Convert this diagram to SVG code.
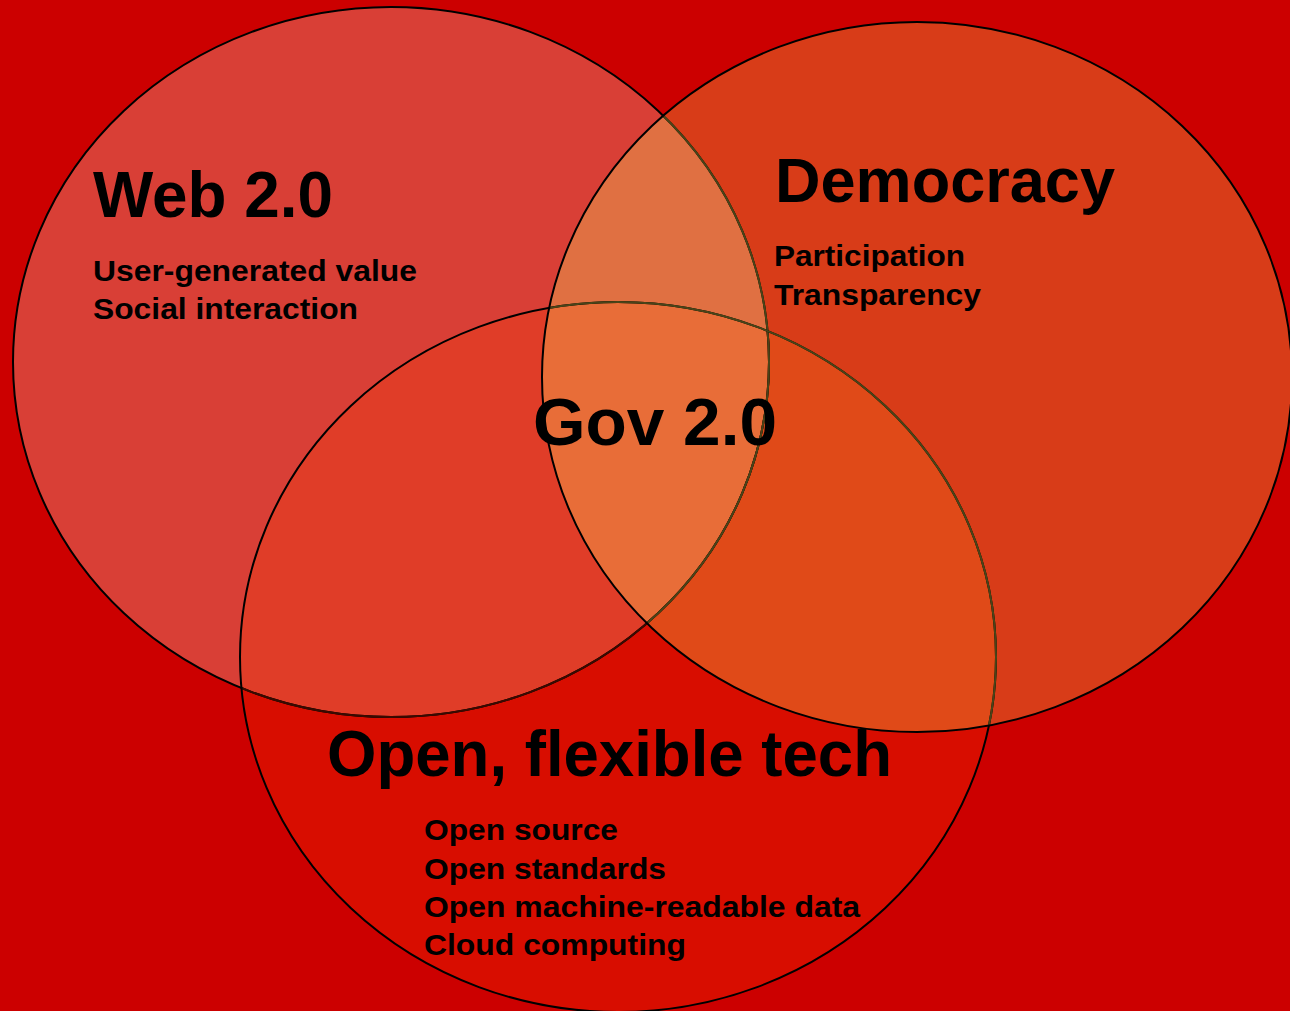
<svg xmlns="http://www.w3.org/2000/svg" width="1290" height="1011" viewBox="0 0 1290 1011">
  <style>
    .big { font-family: "Liberation Sans", Arial, sans-serif; font-weight: bold; fill: #000; }
    .small { font-family: "Liberation Sans", Arial, sans-serif; font-weight: bold; font-size: 29.5px; fill: #000; }
    .outline { fill: none; stroke: #000; stroke-width: 2; }
    .olive { fill: none; stroke: #4A4418; stroke-width: 2; }
    .brown { fill: none; stroke: #3A0A00; stroke-width: 2; }
  </style>
  <defs>
    <ellipse id="eA" cx="391" cy="362" rx="378" ry="355"/>
    <ellipse id="eB" cx="917" cy="377" rx="375" ry="355"/>
    <ellipse id="eC" cx="618" cy="657" rx="378" ry="355"/>
    <clipPath id="clipA"><use href="#eA"/></clipPath>
    <clipPath id="clipB"><use href="#eB"/></clipPath>
    <clipPath id="clipC"><use href="#eC"/></clipPath>
  </defs>

  <rect x="0" y="0" width="1290" height="1011" fill="#CC0000"/>

  <g id="node-web"><use href="#eA" fill="#D93F36"/></g>
  <g id="node-open"><use href="#eC" fill="#D80D00"/></g>
  <g id="node-democracy"><use href="#eB" fill="#D83C18"/></g>

  <g id="overlaps">
    <g clip-path="url(#clipA)"><use href="#eC" fill="#E03D28"/></g>
    <g clip-path="url(#clipB)"><use href="#eC" fill="#E04A18"/></g>
    <g clip-path="url(#clipA)"><use href="#eB" fill="#E07042"/></g>
    <g clip-path="url(#clipA)"><g clip-path="url(#clipB)"><use href="#eC" fill="#E86D38"/></g></g>
  </g>

  <g id="outlines">
    <use href="#eA" class="outline"/>
    <g clip-path="url(#clipC)"><use href="#eA" class="brown"/></g>
    <g clip-path="url(#clipB)"><use href="#eA" class="olive"/></g>
    <use href="#eC" class="outline"/>
    <g clip-path="url(#clipB)"><use href="#eC" class="olive"/></g>
    <use href="#eB" class="outline"/>
  </g>

  <g id="label-web">
    <text class="big" x="93" y="217" font-size="64" textLength="240" lengthAdjust="spacingAndGlyphs">Web 2.0</text>
    <text class="small" x="93" y="281" textLength="324" lengthAdjust="spacingAndGlyphs">User-generated value</text>
    <text class="small" x="93" y="319" textLength="265" lengthAdjust="spacingAndGlyphs">Social interaction</text>
  </g>
  <g id="label-democracy">
    <text class="big" x="775" y="202" font-size="63" textLength="340" lengthAdjust="spacingAndGlyphs">Democracy</text>
    <text class="small" x="774" y="266" textLength="191" lengthAdjust="spacingAndGlyphs">Participation</text>
    <text class="small" x="774" y="305" textLength="207" lengthAdjust="spacingAndGlyphs">Transparency</text>
  </g>
  <g id="label-gov">
    <text class="big" x="533" y="445" font-size="66" textLength="244" lengthAdjust="spacingAndGlyphs">Gov 2.0</text>
  </g>
  <g id="label-open">
    <text class="big" x="327" y="776" font-size="64" textLength="565" lengthAdjust="spacingAndGlyphs">Open, flexible tech</text>
    <text class="small" x="424" y="840" textLength="194" lengthAdjust="spacingAndGlyphs">Open source</text>
    <text class="small" x="424" y="879" textLength="242" lengthAdjust="spacingAndGlyphs">Open standards</text>
    <text class="small" x="424" y="917" textLength="436" lengthAdjust="spacingAndGlyphs">Open machine-readable data</text>
    <text class="small" x="424" y="955" textLength="262" lengthAdjust="spacingAndGlyphs">Cloud computing</text>
  </g>
</svg>
